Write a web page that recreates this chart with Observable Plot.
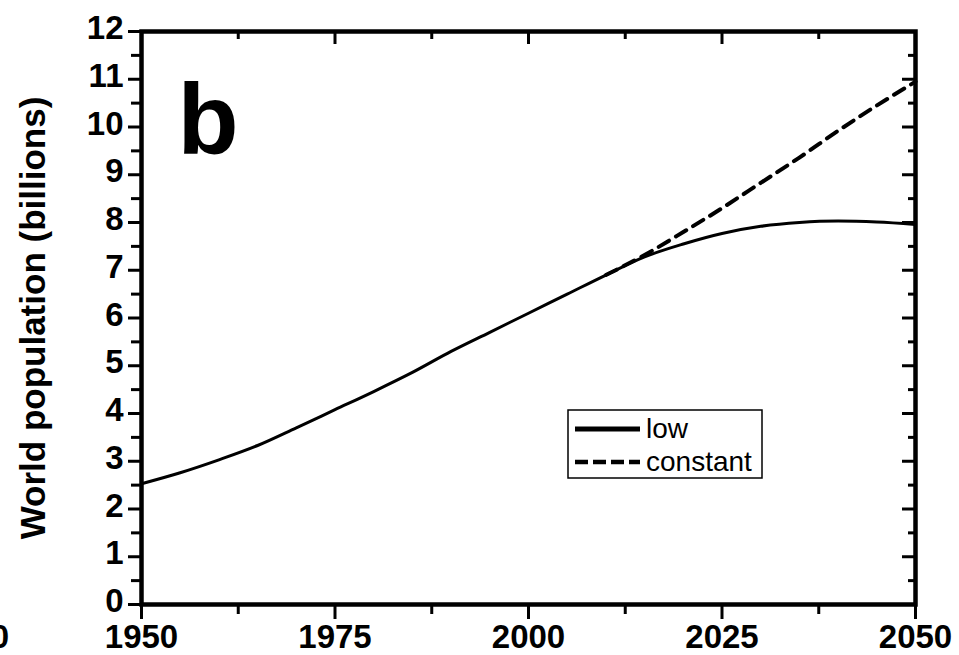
<!DOCTYPE html>
<html>
<head>
<meta charset="utf-8">
<script src="https://cdn.jsdelivr.net/npm/d3@7"></script>
<script src="https://cdn.jsdelivr.net/npm/@observablehq/plot@0.6"></script>
<style>
  html, body { margin: 0; padding: 0; background: #fff; }
  #chart { width: 959px; height: 655px; overflow: hidden; }
</style>
</head>
<body>
<div id="chart"></div>
<script>
// World population, historical and projected (billions)
const lowYears = [1950, 1955, 1960, 1965, 1970, 1975, 1980, 1985, 1990, 1995, 2000,
                  2005, 2010, 2015, 2020, 2025, 2030, 2035, 2040, 2045, 2050];
const lowPopulation = [2.53, 2.76, 3.03, 3.33, 3.70, 4.08, 4.46, 4.86, 5.30, 5.70, 6.10,
                       6.50, 6.90, 7.28, 7.55, 7.77, 7.92, 8.00, 8.03, 8.01, 7.96];

const constantYears = [2010, 2015, 2020, 2025, 2030, 2035, 2040, 2045, 2050];
const constantPopulation = [6.90, 7.32, 7.80, 8.30, 8.83, 9.36, 9.92, 10.45, 10.95];

const xTickValues = [1950, 1975, 2000, 2025, 2050];
const xMinorTicks = [1962.5, 1987.5, 2012.5, 2037.5];
const yTickValues = [0, 1, 2, 3, 4, 5, 6, 7, 8, 9, 10, 11, 12];
const yMinorTicks = [0.5, 1.5, 2.5, 3.5, 4.5, 5.5, 6.5, 7.5, 8.5, 9.5, 10.5, 11.5];

const yLabel = "World population (billions)";
const panelLetter = "b";
const legendLabels = ["low", "constant"];
const neighbourAxisLabel = "2050";

const FONT = "'Liberation Sans', Arial, Helvetica, sans-serif";
const W = 959, H = 655;
const mL = 141, mR = 44, mT = 31, mB = 51;
const fw = W - mL - mR; // frame width
const fh = H - mT - mB; // frame height

const low = lowYears.map((year, i) => ({year, pop: lowPopulation[i]}));
const constant = constantYears.map((year, i) => ({year, pop: constantPopulation[i]}));

const chart = Plot.plot({
  width: W,
  height: H,
  marginLeft: mL,
  marginRight: mR,
  marginTop: mT,
  marginBottom: mB,
  style: {fontFamily: FONT, background: "#fff", color: "#000", overflow: "visible"},
  x: {domain: [1950, 2050]},
  y: {domain: [0, 12]},
  marks: [
    // left ticks, pointing out
    Plot.tickY(yTickValues, {y: d => d, insetLeft: -13, insetRight: fw, strokeWidth: 3}),
    Plot.tickY(yMinorTicks, {y: d => d, insetLeft: -10, insetRight: fw, strokeWidth: 3}),
    // right ticks, pointing in
    Plot.tickY(yTickValues, {y: d => d, insetLeft: fw - 13, strokeWidth: 3}),
    Plot.tickY(yMinorTicks, {y: d => d, insetLeft: fw - 7, strokeWidth: 3}),
    // bottom ticks, pointing out
    Plot.tickX(xTickValues, {x: d => d, insetTop: fh, insetBottom: -15, strokeWidth: 3}),
    Plot.tickX(xMinorTicks, {x: d => d, insetTop: fh, insetBottom: -10, strokeWidth: 3}),
    // top ticks, pointing in
    Plot.tickX(xTickValues, {x: d => d, insetBottom: fh - 13, strokeWidth: 3}),
    Plot.tickX(xMinorTicks, {x: d => d, insetBottom: fh - 8, strokeWidth: 3}),
    // tick labels
    Plot.axisY(yTickValues, {tickSize: 0, tickPadding: 18, fontSize: 33, fontWeight: "bold", dy: -3, label: null}),
    Plot.axisX(xTickValues, {tickSize: 0, tickPadding: 20, fontSize: 33, fontWeight: "bold", label: null,
                             tickFormat: d => String(d)}),
    // projections
    Plot.lineY(constant, {x: "year", y: "pop", strokeWidth: 4, strokeDasharray: "12,8", curve: "monotone-x"}),
    Plot.lineY(low, {x: "year", y: "pop", strokeWidth: 3, curve: "monotone-x"}),
    Plot.frame({strokeWidth: 4.5}),
    // axis title and panel letter
    Plot.text([yLabel], {text: d => d, frameAnchor: "left", rotate: -90, dx: -108, lineAnchor: "middle",
                         textAnchor: "middle", fontSize: 35, fontWeight: "bold"}),
    Plot.text([panelLetter], {text: d => d, frameAnchor: "top-left", dx: 36, dy: 122, lineAnchor: "bottom",
                              textAnchor: "start", fontSize: 100, fontWeight: "bold"})
  ]
});

document.getElementById("chart").appendChild(chart);

// legend box
const svg = d3.select(chart);
const legend = svg.append("g").attr("font-family", FONT).attr("text-anchor", "start");
legend.append("rect")
  .attr("x", 568).attr("y", 410).attr("width", 194).attr("height", 68)
  .attr("fill", "#fff").attr("stroke", "#000").attr("stroke-width", 1.5);
const swatches = [
  {label: legendLabels[0], dash: null, width: 5, y: 429},
  {label: legendLabels[1], dash: "13,5", width: 4.5, y: 462}
];
swatches.forEach(s => {
  legend.append("line")
    .attr("x1", 575).attr("x2", 640).attr("y1", s.y).attr("y2", s.y)
    .attr("stroke", "#000").attr("stroke-width", s.width)
    .attr("stroke-dasharray", s.dash);
  legend.append("text")
    .attr("x", 646).attr("y", s.y + 9)
    .attr("font-size", 28).attr("fill", "#000")
    .text(s.label);
});

// edge of the neighbouring panel's axis label
svg.append("text")
  .attr("x", 9).attr("y", 648)
  .attr("text-anchor", "end")
  .attr("font-family", FONT).attr("font-size", 33).attr("font-weight", "bold")
  .text(neighbourAxisLabel);
</script>
</body>
</html>
